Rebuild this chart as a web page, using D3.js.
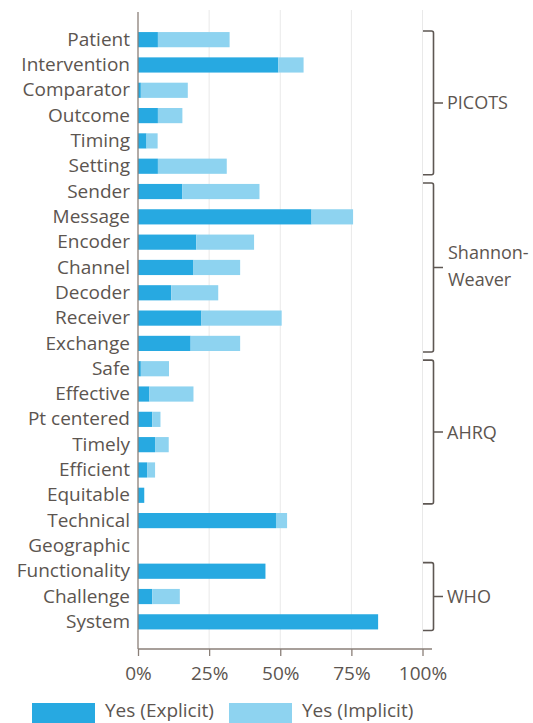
<!DOCTYPE html>
<html>
<head>
<meta charset="utf-8">
<style>
  body { margin: 0; background: #fff; }
  svg text { font-family: "Open Sans", sans-serif; fill: #5c5550; }
</style>
<script src="https://d3js.org/d3.v7.min.js"></script>
</head>
<body>
<svg id="chart" width="533" height="723"></svg>
<script>
// data
const categories = ["Patient", "Intervention", "Comparator", "Outcome", "Timing", "Setting",
  "Sender", "Message", "Encoder", "Channel", "Decoder", "Receiver", "Exchange",
  "Safe", "Effective", "Pt centered", "Timely", "Efficient", "Equitable",
  "Technical", "Geographic", "Functionality", "Challenge", "System"]
const explicit = [7, 49.3, 1, 7, 3, 7, 15.6, 61, 20.5, 19.5, 11.7, 22.3, 18.5,
  1, 4, 5, 6, 3.2, 2.2, 48.5, 0, 44.8, 5, 84.4]
const implicit = [25.2, 8.9, 16.5, 8.6, 3.9, 24.2, 27.1, 14.6, 20.3, 16.4, 16.5, 28.2, 17.4,
  9.9, 15.5, 2.9, 4.8, 2.8, 0, 3.9, 0, 0, 9.7, 0]
const xTicks = [0, 25, 50, 75, 100]
const seriesNames = ["Yes (Explicit)", "Yes (Implicit)"]
const groupNames = [["PICOTS"], ["Shannon-", "Weaver"], ["AHRQ"], ["WHO"]]
const groupFirst = ["Patient", "Sender", "Safe", "Functionality"]
const groupLast = ["Setting", "Exchange", "Equitable", "System"]

const colors = ["#27a9e1", "#8ed3f0"]
const fs = 19

let svg = d3.select("#chart")

let x = d3.scaleLinear().domain([0, 100]).range([138, 422.5])
let y = d3.scaleBand().domain(categories).range([27, 634.5])
  .paddingInner(0.4).paddingOuter(0.2)
let axisY = 649

// gridlines
svg.append("g").selectAll("line")
  .data(xTicks.slice(1))
  .enter().append("line")
  .attr("x1", d => x(d)).attr("x2", d => x(d))
  .attr("y1", 10).attr("y2", axisY)
  .attr("stroke", "#e9e9e9").attr("stroke-width", 1)

// bars
let rows = categories.map((c, i) => ({ c, e: explicit[i], m: implicit[i] }))
let bars = svg.append("g")
bars.selectAll(".exp").data(rows).enter().append("rect")
  .attr("x", x(0)).attr("y", d => y(d.c))
  .attr("width", d => x(d.e) - x(0)).attr("height", y.bandwidth())
  .attr("fill", colors[0])
bars.selectAll(".imp").data(rows).enter().append("rect")
  .attr("x", d => x(d.e)).attr("y", d => y(d.c))
  .attr("width", d => x(d.e + d.m) - x(d.e)).attr("height", y.bandwidth())
  .attr("fill", colors[1])

// x axis
let xAxis = svg.append("g")
  .attr("transform", "translate(0," + axisY + ")")
  .call(d3.axisBottom(x).tickValues(xTicks).tickFormat(d => d + "%").tickSize(7).tickPadding(11))
xAxis.select(".domain").remove()
xAxis.append("line").attr("x1", x(0)).attr("x2", 432).attr("stroke", "#8a7f78").attr("stroke-width", 1.3)
xAxis.selectAll(".tick line").attr("stroke", "#8a7f78").attr("stroke-width", 1.3)
xAxis.selectAll("text").attr("font-size", fs).attr("fill", "#5c5550")
  .style("font-family", "'Open Sans', sans-serif")

// y axis
let yAxis = svg.append("g")
  .attr("transform", "translate(" + x(0) + ",0)")
  .call(d3.axisLeft(y).tickSize(0).tickPadding(8))
yAxis.select(".domain").remove()
yAxis.append("line").attr("y1", 12).attr("y2", axisY).attr("stroke", "#8a7f78").attr("stroke-width", 1.3)
yAxis.selectAll("text").attr("font-size", fs).attr("fill", "#5c5550")
  .style("font-family", "'Open Sans', sans-serif")

// group brackets
let bx0 = 423, bx1 = 433.5, bx2 = 443, r = 2
groupNames.forEach((lines, i) => {
  let top = y(groupFirst[i]) - 1
  let bot = y(groupLast[i]) + y.bandwidth() + 1
  let mid = (top + bot) / 2
  let p = d3.path()
  p.moveTo(bx0, top)
  p.lineTo(bx1 - r, top)
  p.quadraticCurveTo(bx1, top, bx1, top + r)
  p.lineTo(bx1, bot - r)
  p.quadraticCurveTo(bx1, bot, bx1 - r, bot)
  p.lineTo(bx0, bot)
  p.moveTo(bx1, mid)
  p.lineTo(bx2, mid)
  svg.append("path").attr("d", p.toString())
    .attr("fill", "none").attr("stroke", "#5e5753").attr("stroke-width", 1.6)
  let t = svg.append("text").attr("font-size", 18)
  lines.forEach((l, j) => {
    t.append("tspan").attr("x", lines.length > 1 ? 448 : 447)
      .attr("y", mid + 6.5 + (j - (lines.length - 1) / 2) * 27 - (lines.length > 1 ? 1 : 0))
      .text(l)
  })
})

// legend
let legX = [32, 229]
seriesNames.forEach((s, i) => {
  svg.append("rect").attr("x", legX[i]).attr("y", 703).attr("width", 63).attr("height", 20)
    .attr("fill", colors[i])
  svg.append("text").attr("x", legX[i] + 73).attr("y", 717).attr("font-size", fs).text(s)
})
</script>
</body>
</html>
